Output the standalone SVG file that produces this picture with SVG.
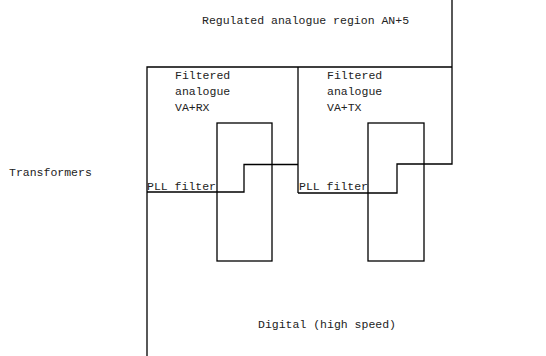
<svg xmlns="http://www.w3.org/2000/svg" width="546" height="356" viewBox="0 0 546 356">
<style>
.l{fill:none;stroke:#000;stroke-width:1.3}
.t{font-family:"Liberation Mono",monospace;font-size:11.5px;fill:#222}
</style>
<rect width="546" height="356" fill="#fff"/>
<g id="connectors">
<path class="l" d="M147,356 V67 H452"/>
<path class="l" d="M452,0 V164 H397 V193 H298"/>
<path class="l" d="M298,67 V193"/>
<path class="l" d="M147,192 H244 V164.5 H298"/>
</g>
<g id="region"><text class="t" x="202" y="24">Regulated analogue region AN+5</text></g>
<g id="filtered-rx"><text class="t" x="175" y="79">Filtered</text><text class="t" x="175" y="95">analogue</text><text class="t" x="175" y="111">VA+RX</text></g>
<g id="filtered-tx"><text class="t" x="327" y="79">Filtered</text><text class="t" x="327" y="95">analogue</text><text class="t" x="327" y="111">VA+TX</text></g>
<g id="transformers"><text class="t" x="9" y="176">Transformers</text></g>
<g id="pll1"><text class="t" x="147" y="190">PLL filter</text></g>
<g id="pll2"><text class="t" x="299" y="190">PLL filter</text></g>
<g id="box1"><rect class="l" x="217" y="123" width="55" height="138"/></g>
<g id="box2"><rect class="l" x="368" y="123" width="56" height="138"/></g>
<g id="digital"><text class="t" x="258" y="328">Digital (high speed)</text></g>
</svg>
